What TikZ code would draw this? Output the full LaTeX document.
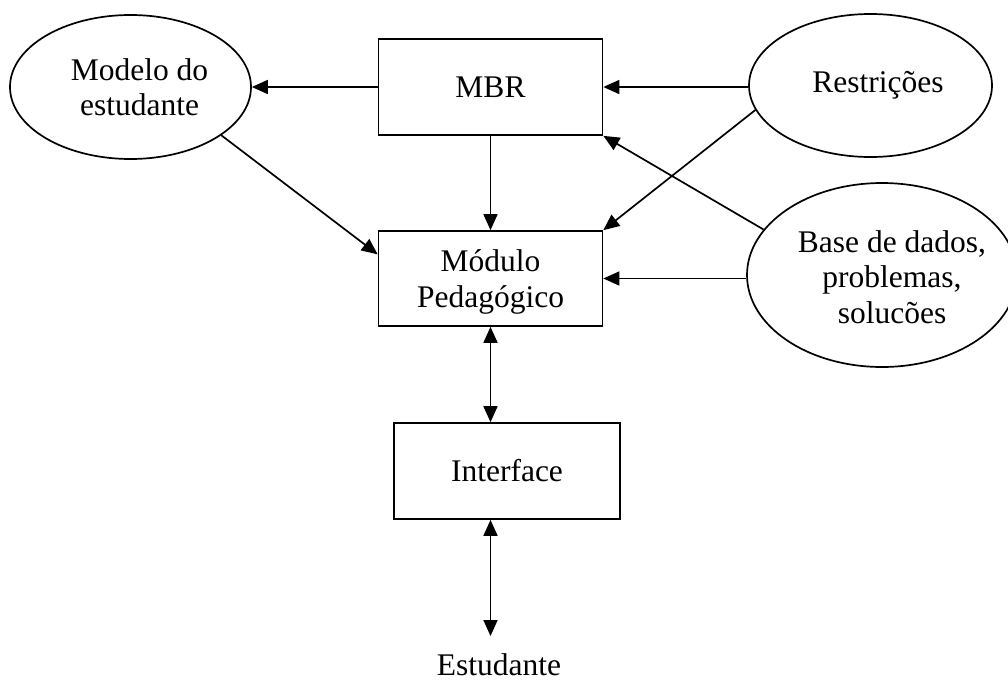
\documentclass[tikz,border=0pt]{standalone}
\usepackage{fontspec}
\setmainfont{Liberation Serif}
\usetikzlibrary{arrows.meta,shapes.geometric,calc}
\begin{document}
\begin{tikzpicture}[x=1pt,y=-1pt,
  every node/.style={font=\fontsize{31.5}{35.5}\selectfont},
  box/.style={draw,line width=1.7pt,rectangle,inner sep=0pt,align=center},
  oval/.style={draw,line width=1.7pt,ellipse,inner sep=0pt},
  tip/.tip={Triangle[length=16pt,width=14pt]},
  arr/.style={line width=1.7pt,-tip},
  dbl/.style={line width=1.7pt,tip-tip}]

  % page frame
  \fill[white] (0,0) rectangle (1008,680);
  \useasboundingbox (0,0) rectangle (1008,680);

  % boxes
  \node[box,minimum width=224pt,minimum height=96pt] (mbr) at (490.5,87) {MBR};
  \node[box,minimum width=224pt,minimum height=95pt,
        label={[align=center,yshift=-3.5pt]center:Módulo\\Pedagógico}] (mod) at (490.5,278.5) {};
  \node[box,minimum width=226pt,minimum height=96pt] (ifc) at (507,471) {Interface};
  \node[inner sep=0pt,anchor=base] (est) at (499,675) {Estudante};

  % ellipses
  \node[oval,minimum width=241pt,minimum height=144pt,
        label={[align=center,xshift=9pt]center:Modelo do\\estudante}] (modelo) at (130.5,87) {};
  \node[oval,minimum width=243pt,minimum height=143pt,
        label={[xshift=7.5pt]center:Restrições}] (rest) at (870.5,85.5) {};
  \node[oval,minimum width=270pt,minimum height=184pt,
        label={[align=center,xshift=10pt,yshift=-2pt]center:Base de dados,\\problemas,\\solucões}] (base) at (882,275) {};

  % connectors
  \draw[arr] (mbr.west) -- (mbr.west -| modelo.east);
  \draw[arr] (mbr.east -| rest.west) -- (mbr.east);
  \draw[arr] (mbr.south) -- (mod.north);
  \draw[arr] (modelo.-28.7) -- ($(mod.north west)!.25!(mod.south west)$);
  \draw[arr] (rest.192.7) -- (mod.north east);
  \draw[arr] (base.159.9) -- (mbr.south east);
  \draw[arr] (mod.east -| base.west) -- (mod.east);
  \draw[dbl] (mod.south) -- (mod.south |- ifc.north);
  \coordinate (estTip) at (490.5,636);
  \draw[dbl] (mod.south |- ifc.south) -- (estTip);
\end{tikzpicture}
\end{document}
